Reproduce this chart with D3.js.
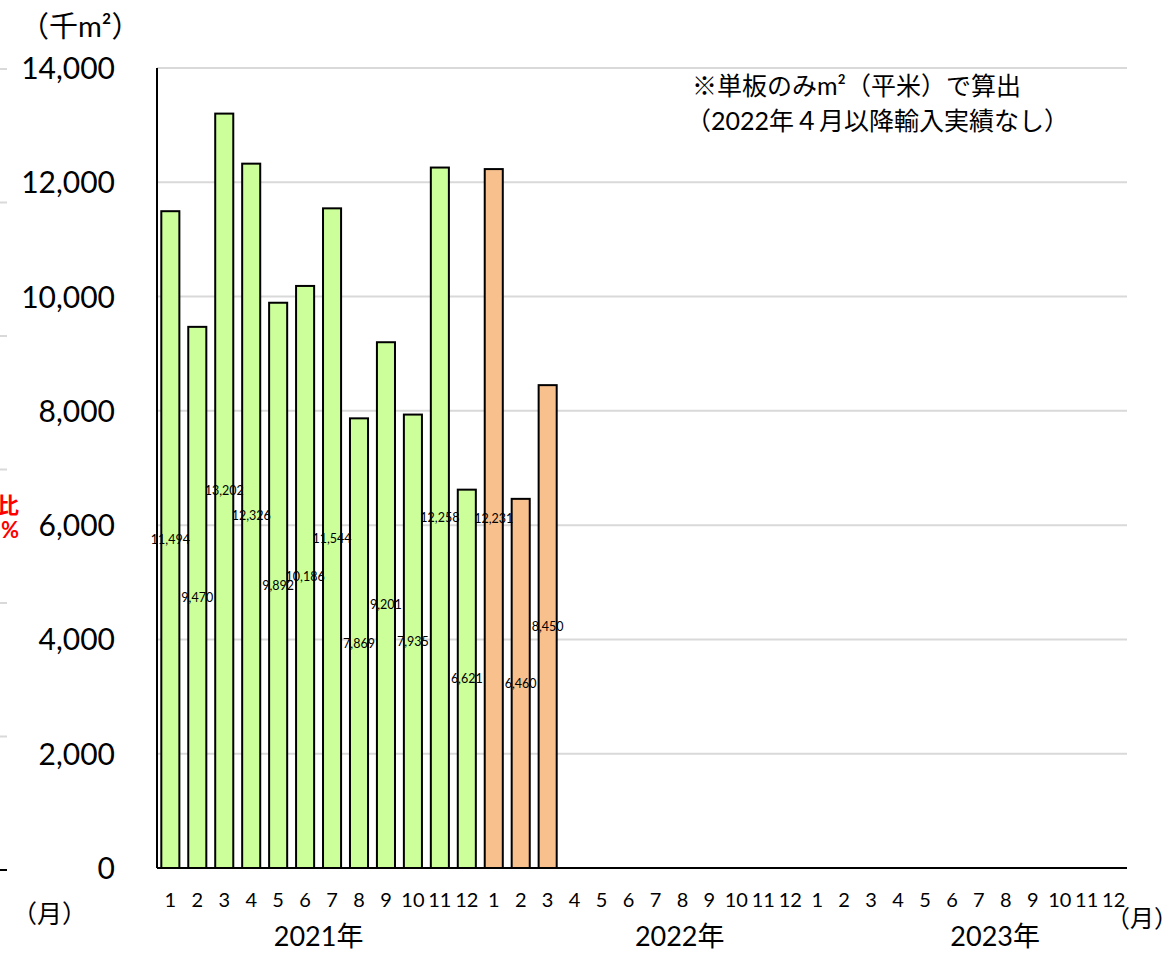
<!DOCTYPE html>
<html>
<head>
<meta charset="utf-8">
<script src="https://cdn.jsdelivr.net/npm/d3@7"></script>
<style>
  body { margin: 0; background: #fff; }
  text { font-family: Lato, "Noto Sans CJK JP", sans-serif; fill: #000; }
</style>
</head>
<body>
<div id="canvas"></div>
<script>
// months shown on the axis (3 years, 12 months each)
const years = ["2021年", "2022年", "2023年"];
const monthLabels = ["1","2","3","4","5","6","7","8","9","10","11","12"];
const values2021 = [11494, 9470, 13202, 12326, 9892, 10186, 11544, 7869, 9201, 7935, 12258, 6621];
const values2022 = [12231, 6460, 8450];
const values2023 = [];
const yTicks = [0, 2000, 4000, 6000, 8000, 10000, 12000, 14000];
const noteLines = ["※単板のみm²（平米）で算出", "（2022年４月以降輸入実績なし）"];

const width = 1174;
const height = 953;
const margin = { top: 68, left: 157, bottom: 85, right: 47 };
const iwidth = width - margin.left - margin.right;
const iheight = height - margin.top - margin.bottom;

const svg = d3.select("#canvas").append("svg")
  .attr("width", width)
  .attr("height", height);

// flatten to one row per month
const rows = [];
[values2021, values2022, values2023].forEach((vals, yi) => {
  monthLabels.forEach((m, mi) => {
    rows.push({ key: yi + "-" + m, year: yi, month: m, value: vals[mi] });
  });
});

const x = d3.scaleBand()
  .domain(rows.map(d => d.key))
  .range([0, iwidth])
  .paddingInner(0.33)
  .paddingOuter(0.16);

const y = d3.scaleLinear()
  .domain([0, 14000])
  .range([iheight, 0]);

const g = svg.append("g")
  .attr("transform", `translate(${margin.left},${margin.top})`);

// gridlines
g.append("g")
  .selectAll("line")
  .data(yTicks.filter(t => t > 0))
  .enter().append("line")
  .attr("x1", 0)
  .attr("x2", iwidth)
  .attr("y1", d => y(d))
  .attr("y2", d => y(d))
  .style("stroke", "#d9d9d9")
  .style("stroke-width", 2);

// y axis labels
const yAxis = g.append("g")
  .call(d3.axisLeft(y).tickValues(yTicks).tickFormat(d3.format(",")).tickSize(0).tickPadding(42));
yAxis.select(".domain").remove();
yAxis.selectAll("text").style("font-size", "30px").attr("dy", "0.35em");

// bars
const barData = rows.filter(d => d.value != null);
g.selectAll("rect.bar")
  .data(barData)
  .enter().append("rect")
  .attr("class", "bar")
  .attr("x", d => x(d.key))
  .attr("y", d => y(d.value))
  .attr("width", x.bandwidth())
  .attr("height", d => iheight - y(d.value))
  .style("fill", d => d.year === 0 ? "#ccff99" : "#f8c08d")
  .style("stroke", "#000")
  .style("stroke-width", 2);

// value labels in the middle of each bar
g.selectAll("text.val")
  .data(barData)
  .enter().append("text")
  .attr("class", "val")
  .attr("x", d => x(d.key) + x.bandwidth() / 2)
  .attr("y", d => y(d.value / 2))
  .attr("dy", "0.35em")
  .attr("text-anchor", "middle")
  .style("font-size", "12.5px")
  .text(d => d3.format(",")(d.value));

// axis lines
g.append("line")
  .attr("x1", 0).attr("x2", 0)
  .attr("y1", 0).attr("y2", iheight)
  .style("stroke", "#000").style("stroke-width", 2);
g.append("line")
  .attr("x1", 0).attr("x2", iwidth)
  .attr("y1", iheight).attr("y2", iheight)
  .style("stroke", "#000").style("stroke-width", 2);

// month labels
const xAxis = g.append("g")
  .attr("transform", `translate(0,${iheight})`)
  .call(d3.axisBottom(x).tickFormat(k => k.split("-")[1]).tickSize(0).tickPadding(25));
xAxis.select(".domain").remove();
xAxis.selectAll("text").style("font-size", "20px");

// year labels
const yearPos = [
  (x(rows[5].key) + x(rows[6].key)) / 2 + x.bandwidth() / 2,
  x(rows[19].key) + x.bandwidth() * 0.35,
  x(rows[30].key) + x.bandwidth() * 1.4
];
g.selectAll("text.year")
  .data(years)
  .enter().append("text")
  .attr("class", "year")
  .attr("x", (d, i) => yearPos[i])
  .attr("y", iheight + 78)
  .attr("text-anchor", "middle")
  .style("font-size", "27px")
  .text(d => d);

// unit labels
svg.append("text")
  .attr("x", 20).attr("y", 37)
  .style("font-size", "29px")
  .text("（千m²）");
svg.append("text")
  .attr("x", 12).attr("y", 923)
  .style("font-size", "25px")
  .text("（月）");
svg.append("text")
  .attr("x", 1106).attr("y", 927)
  .style("font-size", "24px")
  .text("（月）");

// note
svg.selectAll("text.note")
  .data(noteLines)
  .enter().append("text")
  .attr("class", "note")
  .attr("x", (d, i) => i === 0 ? 692 : 686)
  .attr("y", (d, i) => 95 + i * 35)
  .style("font-size", "25px")
  .text(d => d);

// cut-off secondary axis on the far left
const sec = d3.scaleLinear().domain([0, 6]).range([870, 69]);
svg.append("g")
  .selectAll("line")
  .data(d3.range(0, 7))
  .enter().append("line")
  .attr("x1", 0).attr("x2", 7)
  .attr("y1", d => sec(d)).attr("y2", d => sec(d))
  .style("stroke", d => d === 0 ? "#000" : "#d9d9d9")
  .style("stroke-width", 2);
svg.append("text")
  .attr("x", 19).attr("y", 513)
  .attr("text-anchor", "end")
  .style("font-size", "22px").style("font-weight", "bold").style("fill", "#ff0000")
  .text("率比");
svg.append("text")
  .attr("x", 19).attr("y", 538)
  .attr("text-anchor", "end")
  .style("font-size", "22px").style("font-weight", "bold").style("fill", "#ff0000")
  .text("%");
</script>
</body>
</html>
